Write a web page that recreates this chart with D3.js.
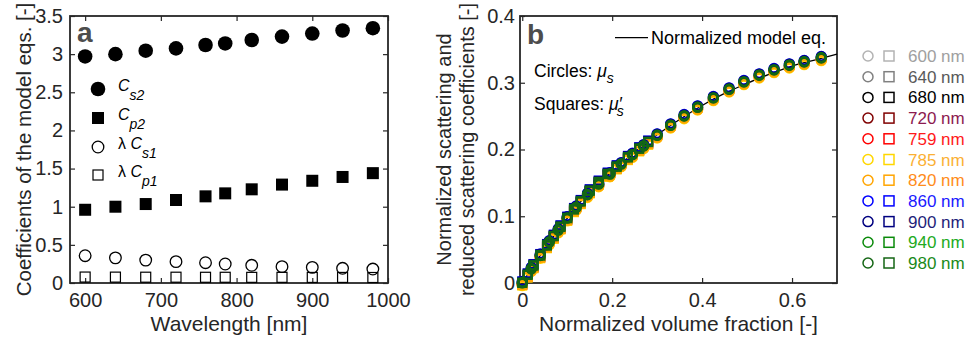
<!DOCTYPE html>
<html>
<head>
<meta charset="utf-8">
<script src="https://cdn.jsdelivr.net/npm/d3@7"></script>
<style>
	body { margin: 0; background: #fff; }
	svg { display: block; font-family: "Liberation Sans", Arial, sans-serif; }
</style>
</head>
<body>
<main></main>
<script>
// panel a: coefficients vs wavelength
const wavelengths = [600, 640, 680, 720, 759, 785, 820, 860, 900, 940, 980];
const cs2 = [2.97, 3.00, 3.045, 3.075, 3.12, 3.14, 3.185, 3.23, 3.27, 3.31, 3.34];
const cp2 = [0.96, 1.00, 1.035, 1.088, 1.136, 1.175, 1.228, 1.29, 1.34, 1.39, 1.44];
const lamCs1 = [0.358, 0.33, 0.30, 0.28, 0.266, 0.249, 0.232, 0.214, 0.205, 0.193, 0.183];
const lamCp1 = [0.078, 0.077, 0.076, 0.076, 0.075, 0.075, 0.074, 0.074, 0.073, 0.073, 0.072];
const aTicksX = [600, 700, 800, 900, 1000];
const aTicksY = [0, 0.5, 1, 1.5, 2, 2.5, 3, 3.5];

// panel b: normalized scattering vs normalized volume fraction
const modelFrac = [0, 0.05, 0.1, 0.15, 0.2, 0.25, 0.3, 0.35, 0.4, 0.45, 0.5, 0.55, 0.6, 0.65, 0.7];
const modelVal = [0, 0.051, 0.097, 0.137, 0.167, 0.196, 0.222, 0.245, 0.266, 0.284, 0.299, 0.313, 0.325, 0.334, 0.343];
const circleFrac = [0, 0.02, 0.04, 0.06, 0.08, 0.10, 0.12, 0.145, 0.17, 0.195, 0.22, 0.245, 0.27, 0.30, 0.33, 0.36, 0.39, 0.425, 0.46, 0.493, 0.527, 0.56, 0.594, 0.627, 0.665];
const circleVal = [0, 0.021, 0.041, 0.061, 0.079, 0.097, 0.113, 0.132, 0.148, 0.163, 0.178, 0.192, 0.205, 0.221, 0.236, 0.25, 0.263, 0.277, 0.29, 0.301, 0.311, 0.319, 0.326, 0.331, 0.337];
const squareFrac = [0, 0.012, 0.025, 0.04, 0.055, 0.07, 0.085, 0.1, 0.115, 0.13, 0.15, 0.17, 0.19, 0.21, 0.235, 0.26, 0.28];
const squareVal = [0, 0.012, 0.026, 0.041, 0.056, 0.07, 0.084, 0.097, 0.11, 0.122, 0.138, 0.151, 0.163, 0.174, 0.188, 0.201, 0.211];
// how far each wavelength's band sits above/below the green one
const seriesShift = [-0.001, -0.001, 0, -0.002, -0.003, -0.004, -0.003, 0.0025, 0.002, 0.0005, 0];
const seriesNames = ["600 nm", "640 nm", "680 nm", "720 nm", "759 nm", "785 nm", "820 nm", "860 nm", "900 nm", "940 nm", "980 nm"];
const markerColors = ["#b3b3b3", "#808080", "#000000", "#800000", "#ff0000", "#ffd700", "#ffa500", "#0000ff", "#000080", "#0a8a0a", "#146614"];
const textColors = ["#a0a0a0", "#595959", "#000000", "#8c1a4f", "#ff1a1a", "#fbb034", "#ff8c1a", "#1a1aff", "#1f1f7a", "#22aa22", "#1a8a1a"];
const bTicksX = [0, 0.2, 0.4, 0.6];
const bTicksY = [0, 0.1, 0.2, 0.3, 0.4];

const axisColor = "#262626";

const svg = d3.select("main")
	.append("svg")
	.attr("width", 968)
	.attr("height", 339);

function drawFrame(box, xScale, yScale, xTicks, yTicks, yPad) {
	const g = svg.append("g");
	g.append("g")
		.attr("transform", `translate(0, ${box.bottom})`)
		.call(d3.axisBottom(xScale).tickValues(xTicks).tickSize(-5).tickSizeOuter(0).tickPadding(10).tickFormat(d3.format("")));
	g.append("g")
		.attr("transform", `translate(0, ${box.top})`)
		.call(d3.axisTop(xScale).tickValues(xTicks).tickSize(-5).tickSizeOuter(0).tickFormat(""));
	g.append("g")
		.attr("transform", `translate(${box.left}, 0)`)
		.call(d3.axisLeft(yScale).tickValues(yTicks).tickSize(-5).tickSizeOuter(0).tickPadding(yPad).tickFormat(d3.format("")));
	g.append("g")
		.attr("transform", `translate(${box.right}, 0)`)
		.call(d3.axisRight(yScale).tickValues(yTicks).tickSize(-5).tickSizeOuter(0).tickFormat(""));
	g.selectAll(".domain").remove();
	g.selectAll(".tick line").attr("stroke", axisColor).attr("stroke-width", 1.2);
	g.selectAll(".tick text")
		.attr("fill", axisColor)
		.style("font-size", "20px")
		.style("font-family", "'Liberation Sans', Arial, sans-serif");
	g.append("rect")
		.attr("x", box.left)
		.attr("y", box.top)
		.attr("width", box.right - box.left)
		.attr("height", box.bottom - box.top)
		.attr("fill", "none")
		.attr("stroke", axisColor)
		.attr("stroke-width", 1.8);
	return g;
}

// ---------- panel a ----------
const boxA = { left: 70, right: 388, top: 16, bottom: 283 };
const xA = d3.scaleLinear().domain([580, 1000]).range([boxA.left, boxA.right]);
const yA = d3.scaleLinear().domain([0, 3.5]).range([boxA.bottom, boxA.top]);

drawFrame(boxA, xA, yA, aTicksX, aTicksY, 7);

const plotA = svg.append("g");
plotA.selectAll("circle.cs2")
	.data(wavelengths)
	.enter()
	.append("circle")
	.attr("cx", d => xA(d))
	.attr("cy", (d, i) => yA(cs2[i]))
	.attr("r", 7.3)
	.attr("fill", "#000");
plotA.selectAll("rect.cp2")
	.data(wavelengths)
	.enter()
	.append("rect")
	.attr("x", d => xA(d) - 6)
	.attr("y", (d, i) => yA(cp2[i]) - 6)
	.attr("width", 12)
	.attr("height", 12)
	.attr("fill", "#000");
plotA.selectAll("circle.cs1")
	.data(wavelengths)
	.enter()
	.append("circle")
	.attr("cx", d => xA(d))
	.attr("cy", (d, i) => yA(lamCs1[i]))
	.attr("r", 5.8)
	.attr("fill", "none")
	.attr("stroke", "#000")
	.attr("stroke-width", 1.3);
plotA.selectAll("rect.cp1")
	.data(wavelengths)
	.enter()
	.append("rect")
	.attr("x", d => xA(d) - 5)
	.attr("y", (d, i) => yA(lamCp1[i]) - 5)
	.attr("width", 10)
	.attr("height", 10)
	.attr("fill", "none")
	.attr("stroke", "#000")
	.attr("stroke-width", 1.2);

// legend a
const legA = svg.append("g");
const legRows = [89, 118, 147, 175];
legA.append("circle").attr("cx", 98).attr("cy", legRows[0]).attr("r", 7.3).attr("fill", "#000");
legA.append("rect").attr("x", 92).attr("y", legRows[1] - 6).attr("width", 12).attr("height", 12).attr("fill", "#000");
legA.append("circle").attr("cx", 98).attr("cy", legRows[2]).attr("r", 5.8).attr("fill", "none").attr("stroke", "#000").attr("stroke-width", 1.3);
legA.append("rect").attr("x", 93).attr("y", legRows[3] - 5).attr("width", 10).attr("height", 10).attr("fill", "none").attr("stroke", "#000").attr("stroke-width", 1.2);
const legLabels = [["", "s2"], ["", "p2"], ["λ ", "s1"], ["λ ", "p1"]];
legLabels.forEach((lab, i) => {
	const t = legA.append("text")
		.attr("x", 118)
		.attr("y", legRows[i] + 2)
		.attr("fill", "#000")
		.style("font-size", "16px");
	if (lab[0]) t.append("tspan").text(lab[0]);
	t.append("tspan").style("font-style", "italic").text("C");
	t.append("tspan").style("font-style", "italic").style("font-size", "14px").attr("dy", 9).text(lab[1]);
});

svg.append("text")
	.attr("x", 77)
	.attr("y", 42)
	.attr("fill", "#4d4d4d")
	.style("font-size", "28px")
	.style("font-weight", "bold")
	.text("a");

svg.append("text")
	.attr("x", boxA.left + (boxA.right - boxA.left) / 2)
	.attr("y", 331)
	.attr("text-anchor", "middle")
	.attr("fill", axisColor)
	.style("font-size", "21px")
	.text("Wavelength [nm]");

svg.append("text")
	.attr("transform", `translate(31, ${(boxA.top + boxA.bottom) / 2}) rotate(-90)`)
	.attr("text-anchor", "middle")
	.attr("fill", axisColor)
	.style("font-size", "20.5px")
	.text("Coefficients of the model eqs. [-]");

// ---------- panel b ----------
const boxB = { left: 520, right: 837, top: 16, bottom: 283 };
const xB = d3.scaleLinear().domain([-0.005, 0.7]).range([boxB.left, boxB.right]);
const yB = d3.scaleLinear().domain([0, 0.4]).range([boxB.bottom, boxB.top]);

drawFrame(boxB, xB, yB, bTicksX, bTicksY, 5);

const plotB = svg.append("g");
const modelLine = d3.line()
	.x(d => xB(d[0]))
	.y(d => yB(d[1]))
	.curve(d3.curveMonotoneX);
plotB.append("path")
	.datum(modelFrac.map((f, i) => [f, modelVal[i]]))
	.attr("d", modelLine)
	.attr("fill", "none")
	.attr("stroke", "#000")
	.attr("stroke-width", 1.3);

wavelengths.forEach((w, k) => {
	const grp = plotB.append("g");
	grp.selectAll("rect")
		.data(squareFrac.map((f, i) => [f, squareVal[i] + seriesShift[k]]))
		.enter()
		.append("rect")
		.attr("x", d => xB(d[0]) - 4)
		.attr("y", d => yB(d[1]) - 4)
		.attr("width", 8)
		.attr("height", 8)
		.attr("fill", "none")
		.attr("stroke", markerColors[k])
		.attr("stroke-width", 2);
	grp.selectAll("circle")
		.data(circleFrac.map((f, i) => [f, circleVal[i] + seriesShift[k]]))
		.enter()
		.append("circle")
		.attr("cx", d => xB(d[0]))
		.attr("cy", d => yB(d[1]))
		.attr("r", 4.3)
		.attr("fill", "none")
		.attr("stroke", markerColors[k])
		.attr("stroke-width", 2.6);
});

// legend b (inside)
svg.append("line")
	.attr("x1", 615).attr("x2", 648)
	.attr("y1", 37.7).attr("y2", 37.7)
	.attr("stroke", "#000")
	.attr("stroke-width", 1.3);
svg.append("text")
	.attr("x", 651)
	.attr("y", 44)
	.attr("fill", "#000")
	.style("font-size", "18px")
	.text("Normalized model eq.");

const circText = svg.append("text").attr("x", 534).attr("y", 77).attr("fill", "#000").style("font-size", "17.5px");
circText.append("tspan").text("Circles: ");
circText.append("tspan").style("font-style", "italic").text("μ");
circText.append("tspan").style("font-style", "italic").style("font-size", "14px").attr("dy", 6).text("s");

const sqText = svg.append("text").attr("x", 534).attr("y", 110).attr("fill", "#000").style("font-size", "17.5px");
sqText.append("tspan").text("Squares: ");
sqText.append("tspan").style("font-style", "italic").text("μ′");
sqText.append("tspan").style("font-style", "italic").style("font-size", "14px").attr("dx", -5).attr("dy", 6).text("s");

svg.append("text")
	.attr("x", 527)
	.attr("y", 44)
	.attr("fill", "#4d4d4d")
	.style("font-size", "28px")
	.style("font-weight", "bold")
	.text("b");

svg.append("text")
	.attr("x", boxB.left + (boxB.right - boxB.left) / 2)
	.attr("y", 331)
	.attr("text-anchor", "middle")
	.attr("fill", axisColor)
	.style("font-size", "21px")
	.text("Normalized volume fraction [-]");

const yLabB = svg.append("text")
	.attr("transform", `translate(451, ${(boxB.top + boxB.bottom) / 2}) rotate(-90)`)
	.attr("text-anchor", "middle")
	.attr("fill", axisColor)
	.style("font-size", "20px");
yLabB.append("tspan").attr("x", 0).attr("y", 0).text("Normalized scattering and");
yLabB.append("tspan").attr("x", 0).attr("y", 23).text("reduced scattering coefficients [-]");

// ---------- wavelength legend (right) ----------
const legR = svg.append("g");
seriesNames.forEach((name, i) => {
	const cy = 56 + i * 20.7;
	legR.append("circle")
		.attr("cx", 868)
		.attr("cy", cy)
		.attr("r", 5)
		.attr("fill", "none")
		.attr("stroke", markerColors[i])
		.attr("stroke-width", 1.5);
	legR.append("rect")
		.attr("x", 884)
		.attr("y", cy - 5)
		.attr("width", 10)
		.attr("height", 10)
		.attr("fill", "none")
		.attr("stroke", markerColors[i])
		.attr("stroke-width", 1.5);
	legR.append("text")
		.attr("x", 908)
		.attr("y", cy + 6)
		.attr("fill", textColors[i])
		.style("font-size", "17px")
		.text(name);
});
</script>
</body>
</html>
